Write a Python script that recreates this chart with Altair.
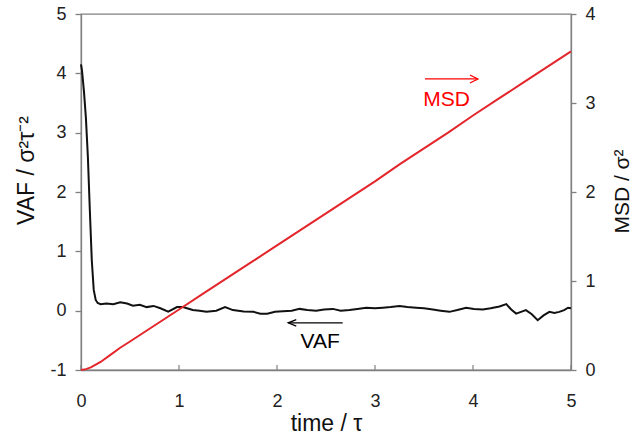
import altair as alt
import pandas as pd

# Velocity autocorrelation function (left axis)
vaf_time = [0.0, 0.01, 0.03, 0.05, 0.07, 0.09, 0.11, 0.13, 0.15, 0.17, 0.2,
            0.26, 0.33, 0.40, 0.47, 0.53, 0.60, 0.67, 0.74, 0.81, 0.89, 0.98,
            1.04, 1.14, 1.21, 1.28, 1.38, 1.47, 1.55, 1.66, 1.76, 1.83, 1.90,
            1.98, 2.06, 2.15, 2.23, 2.31, 2.40, 2.48, 2.57, 2.65, 2.74, 2.82,
            2.91, 3.00, 3.08, 3.16, 3.25, 3.33, 3.42, 3.50, 3.59, 3.67, 3.76,
            3.84, 3.93, 4.01, 4.10, 4.18, 4.27, 4.34, 4.39, 4.44, 4.49, 4.54,
            4.60, 4.66, 4.72, 4.78, 4.83, 4.88, 4.93, 4.97, 5.0]
vaf = [4.15, 4.05, 3.70, 3.25, 2.60, 1.70, 0.85, 0.35, 0.18, 0.13, 0.11,
       0.12, 0.11, 0.14, 0.12, 0.085, 0.10, 0.06, 0.08, 0.04, -0.015, 0.06,
       0.06, 0.01, 0.0, -0.02, 0.0, 0.06, 0.01, -0.015, -0.02, -0.05, -0.05,
       -0.02, -0.01, 0.0, 0.03, 0.01, 0.0, 0.02, 0.03, 0.0, 0.01, 0.03,
       0.05, 0.04, 0.05, 0.06, 0.08, 0.06, 0.05, 0.04, 0.02, 0.0, -0.02,
       0.01, 0.05, 0.03, 0.02, 0.04, 0.07, 0.11, 0.02, -0.05, -0.02, 0.01,
       -0.06, -0.16, -0.08, -0.02, -0.04, -0.02, 0.01, 0.05, 0.04]

# Mean squared displacement (right axis)
msd_time = [0.0, 0.05, 0.1, 0.15, 0.2, 0.3, 0.4, 0.5, 0.75, 1.0, 1.25, 1.5,
            1.75, 2.0, 2.25, 2.5, 2.75, 3.0, 3.25, 3.5, 3.75, 4.0, 4.25, 4.5,
            4.75, 5.0]
msd = [0.0, 0.01, 0.03, 0.06, 0.09, 0.17, 0.25, 0.32, 0.50, 0.68, 0.86, 1.04,
       1.22, 1.40, 1.58, 1.76, 1.94, 2.12, 2.31, 2.49, 2.67, 2.86, 3.04, 3.22,
       3.40, 3.58]

x_ticks = [0, 1, 2, 3, 4, 5]
vaf_ticks = [-1, 0, 1, 2, 3, 4, 5]
msd_ticks = [0, 1, 2, 3, 4]

# Arrow annotations: shaft start, arrow tip, height; label position
vaf_arrow = {"t0": [2.67], "t1": [2.115], "y": [-0.205]}
vaf_label = {"t": [2.44], "y": [-0.53], "text": ["VAF"]}
msd_arrow = {"t0": [3.51], "t1": [4.05], "y": [3.27]}
msd_label = {"t": [3.73], "y": [3.03], "text": ["MSD"]}

W, H = 490, 356
PAD_L, PAD_T = 81, 14
FONT = "Liberation Sans"
GREY = "#808080"
LINE_RED = "#e3262b"
TEXT_RED = "#ff0000"

x_scale = alt.Scale(domain=[0, 5], nice=False, zero=False)
vaf_scale = alt.Scale(domain=[-1, 5], nice=False, zero=False)
msd_scale = alt.Scale(domain=[0, 4], nice=False, zero=False)

# one axis definition per scale, shared by every layer on that scale
x_axis = alt.Axis(
    values=x_ticks, title="time / τ", ticks=False, tickSize=0,
    labelPadding=22, labelFlush=False,
    titleY=53, titleBaseline="middle", titleFontSize=23,
)
vaf_axis = alt.Axis(
    orient="left", values=vaf_ticks, title="VAF / σ²τ⁻²",
    tickSize=6, labelPadding=9,
    labelExpr="replace(datum.label, '−', '-')",
    titleX=-55, titleY=156, titleAngle=270, titleFontSize=23,
    titleAlign="center", titleBaseline="middle",
)
msd_axis = alt.Axis(
    orient="right", values=msd_ticks, title="MSD / σ²",
    tickSize=5, labelPadding=9,
    titleX=51, titleY=177, titleAngle=270, titleFontSize=21,
    titleAlign="center", titleBaseline="middle",
)


def xenc(field):
    return alt.X(field, scale=x_scale, axis=x_axis, title="time / τ")


def vaf_y(field):
    return alt.Y(field, scale=vaf_scale, axis=vaf_axis, title="VAF / σ²τ⁻²")


def msd_y(field):
    return alt.Y(field, scale=msd_scale, axis=msd_axis, title="MSD / σ²")


vaf_df = pd.DataFrame({"t": vaf_time, "v": vaf})
msd_df = pd.DataFrame({"t": msd_time, "m": msd})

vaf_line = alt.Chart(vaf_df).mark_line(color="#111111", strokeWidth=2).encode(
    x=xenc("t:Q"), y=vaf_y("v:Q"),
)

# inward ticks along the time axis
x_tick_marks = alt.Chart(pd.DataFrame({"t": x_ticks})).mark_rule(
    color=GREY, strokeWidth=1.2
).encode(
    x=xenc("t:Q"),
    y=alt.value(H),
    y2=alt.value(H - 5),
)

vaf_shaft = alt.Chart(pd.DataFrame(vaf_arrow)).mark_rule(
    color="black", strokeWidth=1.3
).encode(x=xenc("t0:Q"), x2="t1:Q", y=vaf_y("y:Q"))
vaf_head = alt.Chart(pd.DataFrame(vaf_arrow)).mark_point(
    shape="M2,-0.8L0,0L2,0.8", filled=False, size=64,
    color="black", strokeWidth=1.3, opacity=1,
).encode(x=xenc("t1:Q"), y=vaf_y("y:Q"))
vaf_text = alt.Chart(pd.DataFrame(vaf_label)).mark_text(
    font=FONT, fontSize=21, color="black", align="center", baseline="middle"
).encode(x=xenc("t:Q"), y=vaf_y("y:Q"), text="text:N")

msd_line = alt.Chart(msd_df).mark_line(color=LINE_RED, strokeWidth=2).encode(
    x=xenc("t:Q"), y=msd_y("m:Q"),
)
msd_shaft = alt.Chart(pd.DataFrame(msd_arrow)).mark_rule(
    color=TEXT_RED, strokeWidth=1.3
).encode(x=xenc("t0:Q"), x2="t1:Q", y=msd_y("y:Q"))
msd_head = alt.Chart(pd.DataFrame(msd_arrow)).mark_point(
    shape="M-2,-1L0,0L-2,1", filled=False, size=64,
    color=TEXT_RED, strokeWidth=1.3, opacity=1,
).encode(x=xenc("t1:Q"), y=msd_y("y:Q"))
msd_text = alt.Chart(pd.DataFrame(msd_label)).mark_text(
    font=FONT, fontSize=21, color=TEXT_RED, align="center", baseline="middle"
).encode(x=xenc("t:Q"), y=msd_y("y:Q"), text="text:N")

left = alt.layer(vaf_line, x_tick_marks, vaf_shaft, vaf_head, vaf_text)
right = alt.layer(msd_line, msd_shaft, msd_head, msd_text)

chart = (
    alt.layer(left, right)
    .resolve_scale(y="independent")
    .properties(
        width=W, height=H,
        autosize=alt.AutoSizeParams(type="none"),
        padding={"left": PAD_L, "top": PAD_T,
                 "right": 644 - PAD_L - W, "bottom": 437 - PAD_T - H},
        background="white",
    )
    .configure_view(stroke=GREY, strokeWidth=1.3)
    .configure_axis(
        domainColor=GREY, domainWidth=1.3, tickColor=GREY, tickWidth=1.3,
        grid=False, labelFont=FONT, labelFontSize=18, labelColor="#222222",
        titleFont=FONT, titleFontWeight="normal", titleColor="#111111",
    )
)

chart.save("out.html", embed_options={"renderer": "svg", "actions": False})
